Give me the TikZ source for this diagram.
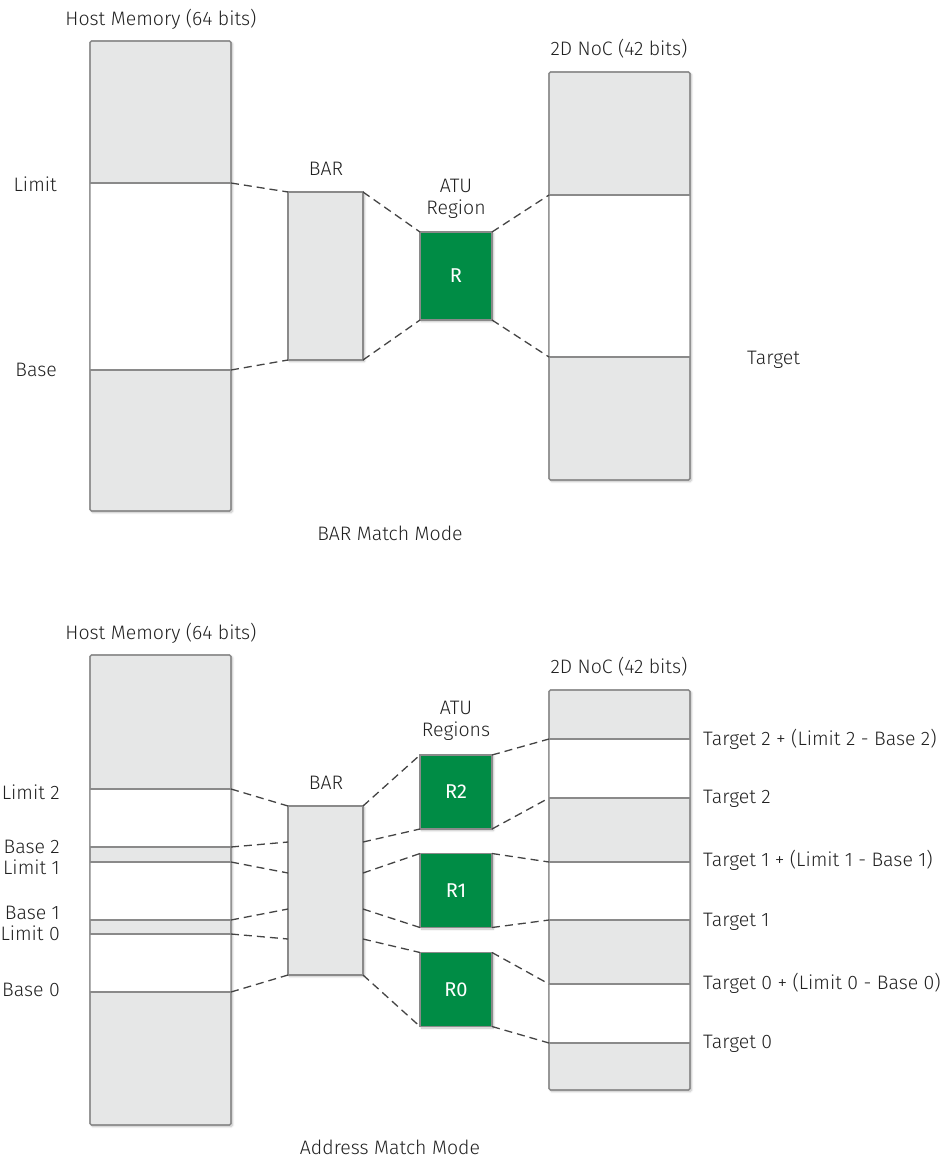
\documentclass[tikz,border=0pt]{standalone}
\usepackage{fontspec}
\setmainfont{Fira Sans}[UprightFont={* Light}, BoldFont={*}]
\usetikzlibrary{shadows.blur}
\definecolor{memgray}{HTML}{E6E7E7}
\definecolor{edgegray}{HTML}{8A8A8A}
\definecolor{atugreen}{HTML}{008C45}
\definecolor{linkgray}{HTML}{444444}
\tikzset{
  membox/.style={draw=edgegray, line width=1.1pt, fill=memgray, outer sep=0pt,
    blur shadow={shadow xshift=1.5pt, shadow yshift=-1.5pt, shadow blur steps=6, shadow opacity=25}},
  regbox/.style={draw=edgegray, line width=1.1pt, fill=atugreen, outer sep=0pt, text=white,
    minimum width=72, font=\fontsize{20}{22}\selectfont\bfseries,
    blur shadow={shadow xshift=1.5pt, shadow yshift=-1.5pt, shadow blur steps=6, shadow opacity=25}},
  rim/.style={draw=edgegray, line width=1.1pt, rounded corners=1.5pt},
  sep/.style={draw=edgegray, line width=1.1pt},
  link/.style={draw=linkgray, line width=1.3pt, dash pattern=on 8pt off 5pt},
  lbl/.style={font=\fontsize{19.5}{22}\selectfont, text=black!87, inner sep=0pt}
}
\begin{document}
\begin{tikzpicture}[x=1pt, y=-1pt]
  \useasboundingbox (0,0) rectangle (950,1160);
  % ===== BAR Match Mode =====
  % host memory
  \node[membox, rounded corners=1.5pt, minimum width=141, minimum height=470, anchor=north west] (hm) at (90,41) {};
  \fill[white] (90,183) rectangle (231,370);
  \draw[sep] (90,183) -- (231,183) (90,370) -- (231,370);
  \draw[rim] (hm.north west) rectangle (hm.south east);
  \node[lbl] at (161,19) {Host Memory (64 bits)};
  \node[lbl, anchor=east] at (57,184) {Limit};
  \node[lbl, anchor=east] at (57,370) {Base};
  % BAR
  \node[membox, minimum width=75, minimum height=168] (bar) at (325.5,276) {};
  \node[lbl] at (326,169) {BAR};
  % ATU region
  \node[regbox, minimum height=88] (r) at (456,276) {R};
  \node[lbl, align=center] at (456,199) {ATU\\Region};
  % NoC
  \node[membox, rounded corners=1.5pt, minimum width=141, minimum height=408, anchor=north west] (noc) at (549,72) {};
  \fill[white] (549,195) rectangle (690,357);
  \draw[sep] (549,195) -- (690,195) (549,357) -- (690,357);
  \draw[rim] (noc.north west) rectangle (noc.south east);
  \node[lbl] at (619,49) {2D NoC (42 bits)};
  \node[lbl, anchor=west] at (747,360) {Target};
  % mapping lines
  \coordinate (hlim) at (231,183);
  \coordinate (hbas) at (231,370);
  \coordinate (nlim) at (549,195);
  \coordinate (nbas) at (549,357);
  \draw[link] (hlim) -- (bar.north west) (hbas) -- (bar.south west);
  \draw[link] (bar.north east) -- (r.north west) (bar.south east) -- (r.south west);
  \draw[link] (r.north east) -- (nlim) (r.south east) -- (nbas);
  \node[lbl] at (390,533) {BAR Match Mode};

  % ===== Address Match Mode =====
  % host memory
  \node[membox, rounded corners=1.5pt, minimum width=141, minimum height=470, anchor=north west] (hm2) at (90,655) {};
  \foreach \a/\b in {789/847, 862/920, 934/992}
    \fill[white] (90,\a) rectangle (231,\b);
  \foreach \y [count=\i] in {789,847,862,920,934,992} {
    \draw[sep] (90,\y) -- (231,\y);
    \coordinate (h\i) at (231,\y);
  }
  \draw[rim] (hm2.north west) rectangle (hm2.south east);
  \node[lbl] at (161,633) {Host Memory (64 bits)};
  \foreach \t/\y in {Limit 2/792, Base 2/847, Limit 1/867, Base 1/913, Limit 0/933, Base 0/990}
    \node[lbl, anchor=east] at (60,\y) {\t};
  % BAR
  \node[membox, minimum width=75, minimum height=169] (bar2) at (325.5,890.5) {};
  \node[lbl] at (326,783) {BAR};
  \foreach \y [count=\i] in {806,842,873,909,939,975} {
    \coordinate (bl\i) at (288,\y);
    \coordinate (br\i) at (363,\y);
  }
  % ATU regions
  \node[regbox, minimum height=74] (r2) at (456,792) {R2};
  \node[regbox, minimum height=74] (r1) at (456,890.5) {R1};
  \node[regbox, minimum height=74] (r0) at (456,989.5) {R0};
  \node[lbl, align=center] at (456,721) {ATU\\Regions};
  % NoC
  \node[membox, rounded corners=1.5pt, minimum width=141, minimum height=400, anchor=north west] (noc2) at (549,690) {};
  \foreach \a/\b in {739/798, 862/920, 984/1043}
    \fill[white] (549,\a) rectangle (690,\b);
  \foreach \y [count=\i] in {739,798,862,920,984,1043} {
    \draw[sep] (549,\y) -- (690,\y);
    \coordinate (n\i) at (549,\y);
  }
  \draw[rim] (noc2.north west) rectangle (noc2.south east);
  \node[lbl] at (619,667) {2D NoC (42 bits)};
  \foreach \t/\y in {Target 2 + (Limit 2 - Base 2)/739, Target 2/799, Target 1 + (Limit 1 - Base 1)/860,
                     Target 1/922, Target 0 + (Limit 0 - Base 0)/983, Target 0/1044}
    \node[lbl, anchor=west] at (703,\y) {\t};
  % mapping lines
  \foreach \i in {1,...,6}
    \draw[link] (h\i) -- (bl\i);
  \draw[link] (br1) -- (r2.north west) (br2) -- (r2.south west);
  \draw[link] (br3) -- (r1.north west) (br4) -- (r1.south west);
  \draw[link] (br5) -- (r0.north west) (br6) -- (r0.south west);
  \draw[link] (r2.north east) -- (n1) (r2.south east) -- (n2);
  \draw[link] (r1.north east) -- (n3) (r1.south east) -- (n4);
  \draw[link] (r0.north east) -- (n5) (r0.south east) -- (n6);
  \node[lbl] at (390,1147) {Address Match Mode};
\end{tikzpicture}
\end{document}
